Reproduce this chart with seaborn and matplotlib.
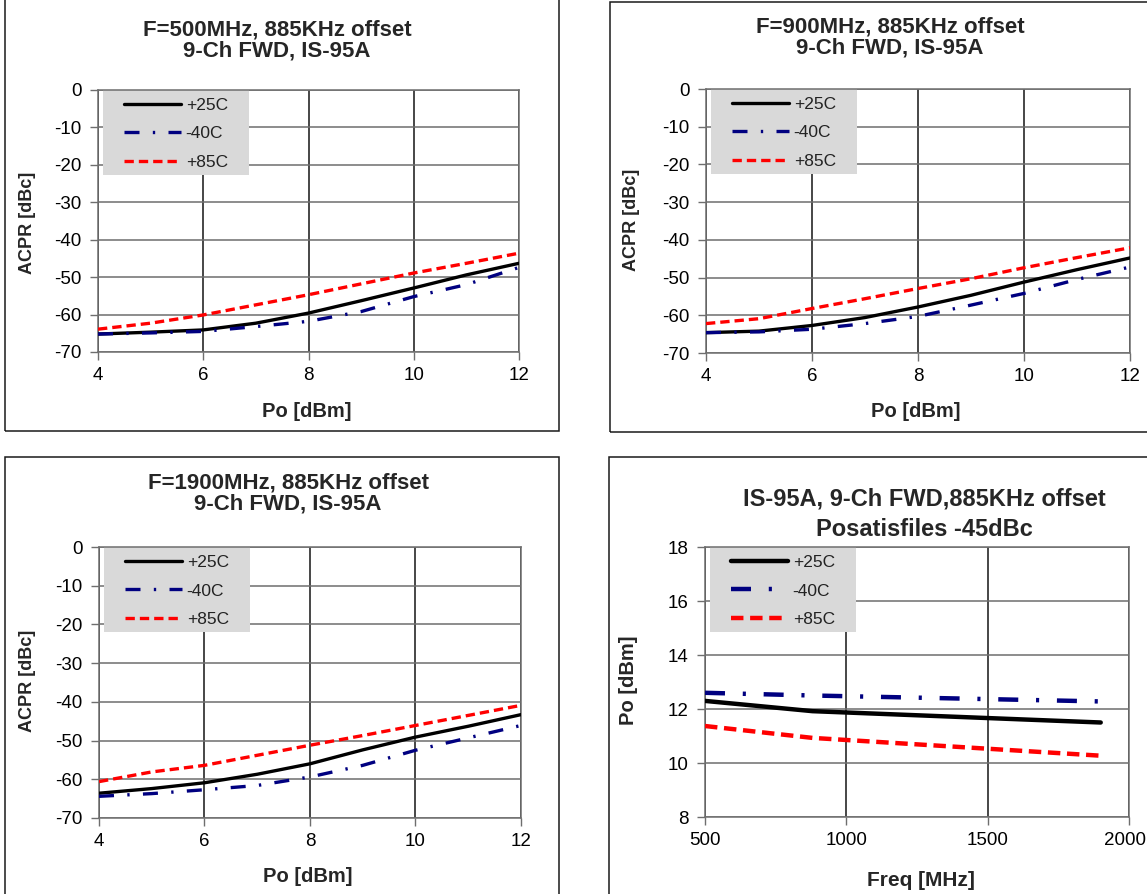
import matplotlib
matplotlib.use("Agg")
import matplotlib.pyplot as plt
import matplotlib.transforms as mtransforms
import seaborn as sns
import pandas as pd
from matplotlib.patches import Rectangle

# ---------------- data ----------------
series_labels = ["+25C", "-40C", "+85C"]
po_dbm = [4, 5, 6, 7, 8, 9, 10, 11, 12]

acpr500_p25 = [-65.2, -64.7, -64.1, -62.3, -59.6, -56.3, -52.9, -49.4, -46.3]
acpr500_m40 = [-65.2, -64.9, -64.5, -63.2, -61.8, -59.2, -55.2, -52.0, -47.4]
acpr500_p85 = [-63.9, -62.3, -60.1, -57.4, -54.7, -51.8, -48.9, -46.3, -43.6]

acpr900_p25 = [-64.6, -64.2, -62.7, -60.6, -57.8, -54.7, -51.2, -47.9, -44.8]
acpr900_m40 = [-64.6, -64.4, -63.7, -62.2, -60.3, -57.3, -54.2, -50.5, -47.2]
acpr900_p85 = [-62.2, -60.9, -58.2, -55.6, -52.9, -50.3, -47.4, -44.7, -42.1]

acpr1900_p25 = [-63.6, -62.4, -60.9, -58.7, -56.0, -52.4, -49.1, -46.3, -43.3]
acpr1900_m40 = [-64.4, -63.7, -62.7, -61.6, -59.4, -56.4, -52.5, -49.3, -46.1]
acpr1900_p85 = [-60.6, -58.1, -56.4, -53.8, -51.2, -48.7, -46.1, -43.5, -40.9]

freq_mhz = [500, 880, 1900]
po_p25 = [12.3, 11.92, 11.5]
po_m40 = [12.6, 12.5, 12.28]
po_p85 = [11.37, 10.93, 10.27]

acpr_ticks = [0, -10, -20, -30, -40, -50, -60, -70]
po_ticks = [4, 6, 8, 10, 12]
freq_ticks = [500, 1000, 1500, 2000]
po_y_ticks = [8, 10, 12, 14, 16, 18]

titles = [
    ("F=500MHz, 885KHz offset", "9-Ch FWD, IS-95A"),
    ("F=900MHz, 885KHz offset", "9-Ch FWD, IS-95A"),
    ("F=1900MHz, 885KHz offset", "9-Ch FWD, IS-95A"),
    ("IS-95A, 9-Ch FWD,885KHz offset", "Posatisfiles -45dBc"),
]

# ---------------- style ----------------
sns.set_theme(style="white")
plt.rcParams["font.family"] = ["Liberation Sans", "DejaVu Sans"]
plt.rcParams["axes.unicode_minus"] = False

colors = {"+25C": "#000000", "-40C": "#000080", "+85C": "#ff0000"}
styles = {"+25C": "-", "-40C": (0, (4.5, 4.0, 0.7, 4.0)), "+85C": (0, (2.8, 1.5))}

W, H = 1147, 894
fig = plt.figure(figsize=(W / 100, H / 100), dpi=100)


def fx(x):
    return x / W


def fy(y):
    return 1 - y / H


def box(x0, y0, x1, y1):
    fig.add_artist(Rectangle((fx(x0), fy(y1)), fx(x1) - fx(x0), fy(y0) - fy(y1),
                             transform=fig.transFigure, fill=False,
                             edgecolor="#1a1a1a", lw=1.1, clip_on=False))


def panel(plot_px, x, ys, xlim, xticks, ylim, yticks, lw, tick_fs,
          title, title_xy, title_fs, xlabel, xlabel_xy, xlab_fs,
          ylabel, ylabel_xy, ylab_fs):
    x0, y0, x1, y1 = plot_px
    ax = fig.add_axes([fx(x0), fy(y1), fx(x1) - fx(x0), fy(y0) - fy(y1)])
    for lab, yv in zip(series_labels, ys):
        df = pd.DataFrame({"x": x, "y": yv})
        sns.lineplot(data=df, x="x", y="y", ax=ax, color=colors[lab],
                     linestyle=styles[lab], lw=lw, label=lab, zorder=3,
                     estimator=None, sort=False)
    ax.set_xlim(*xlim)
    ax.set_ylim(*ylim)
    ax.set_xticks(xticks)
    ax.set_yticks(yticks)
    ax.set_xlabel("")
    ax.set_ylabel("")
    ax.set_axisbelow(True)
    ax.grid(axis="y", color="#6e6e6e", lw=1.1)
    ax.grid(axis="x", color="#151515", lw=1.1)
    for s in ax.spines.values():
        s.set_color("#6e6e6e")
        s.set_linewidth(1.1)
    ax.tick_params(axis="both", direction="out", length=6, width=1.0,
                   color="#6e6e6e", labelsize=tick_fs, labelcolor="black",
                   bottom=True, left=True)
    ax.tick_params(axis="y", pad=6)
    ax.tick_params(axis="x", pad=5)
    # legend background
    pw, ph = x1 - x0, y1 - y0
    ax.add_patch(Rectangle((5 / pw, 1 - 85 / ph), 146 / pw, 85 / ph,
                           transform=ax.transAxes, facecolor="#d9d9d9",
                           edgecolor="none", zorder=2.2))
    leg = ax.legend(loc="upper left", bbox_to_anchor=(26 / pw, 1 - 8 / ph),
                    frameon=False, borderpad=0, borderaxespad=0,
                    handlelength=3.3, handletextpad=0.25, labelspacing=0.76,
                    fontsize=12.5)
    leg.set_zorder(6)
    for t in leg.get_texts():
        t.set_color("#222222")
    # titles and labels
    fig.text(fx(title_xy[0]), fy(title_xy[1]), title[0], ha="center", va="center",
             fontsize=title_fs, fontweight="bold")
    fig.text(fx(title_xy[0]), fy(title_xy[2]), title[1], ha="center", va="center",
             fontsize=title_fs, fontweight="bold")
    fig.text(fx(xlabel_xy[0]), fy(xlabel_xy[1]), xlabel, ha="center", va="center",
             fontsize=xlab_fs, fontweight="bold")
    fig.text(fx(ylabel_xy[0]), fy(ylabel_xy[1]), ylabel, ha="center", va="center",
             fontsize=ylab_fs, fontweight="bold", rotation=90)
    return ax


# panel frames
box(5, -5, 559, 431)
box(610, 2, 1152, 432)
box(5, 457, 559, 900)
box(609, 457, 1152, 900)

panel((98, 90, 519, 352), po_dbm, [acpr500_p25, acpr500_m40, acpr500_p85],
      (4, 12), po_ticks, (-70, 0), acpr_ticks, 2.4, 13.5,
      titles[0], (277, 30, 51), 16, "Po [dBm]", (307, 411), 14.5,
      "ACPR [dBc]", (27, 223), 13)

panel((706, 89, 1130, 353), po_dbm, [acpr900_p25, acpr900_m40, acpr900_p85],
      (4, 12), po_ticks, (-70, 0), acpr_ticks, 2.4, 13.5,
      titles[1], (890, 27, 48), 16, "Po [dBm]", (916, 411), 14.5,
      "ACPR [dBc]", (631, 220), 13)

panel((99, 547, 521, 818), po_dbm, [acpr1900_p25, acpr1900_m40, acpr1900_p85],
      (4, 12), po_ticks, (-70, 0), acpr_ticks, 2.4, 13.5,
      titles[2], (288, 483, 504), 16, "Po [dBm]", (308, 877), 14.5,
      "ACPR [dBc]", (27, 681), 13)

ax4 = panel((705, 547, 1129, 817), freq_mhz, [po_p25, po_m40, po_p85],
            (500, 2000), freq_ticks, (8, 18), po_y_ticks, 3.2, 13.5,
            titles[3], (924, 499, 529), 17, "Freq [MHz]", (921, 880), 15,
            "Po [dBm]", (628, 680), 14.5)

# keep the last frequency label inside the canvas (as in the reference)
last = ax4.get_xticklabels()[-1]
last.set_transform(last.get_transform() +
                   mtransforms.ScaledTranslation(-4 / 100, 0, fig.dpi_scale_trans))

fig.savefig("out.png", dpi=100)
